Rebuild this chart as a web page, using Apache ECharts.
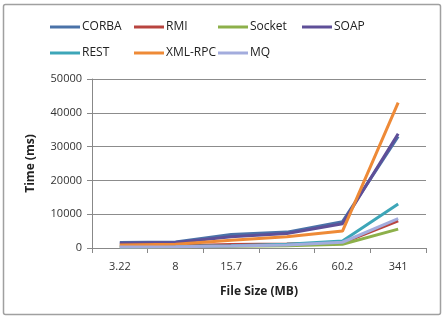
<!DOCTYPE html>
<html>
<head>
<meta charset="utf-8">
<script src="https://cdn.jsdelivr.net/npm/echarts@6/dist/echarts.min.js"></script>
<style>
  html, body { margin: 0; padding: 0; background: #fff; }
  #chart { width: 447px; height: 317px; }
</style>
</head>
<body>
<div id="chart"></div>
<script>
const fileSizes = ['3.22', '8', '15.7', '26.6', '60.2', '341']
const corba = [1600, 1800, 4000, 4700, 7800, 33000]
const rmi = [600, 700, 1000, 1200, 1500, 8000]
const socket = [300, 400, 500, 700, 1100, 5600]
const soap = [1400, 1600, 3300, 4300, 7200, 33800]
const rest = [400, 500, 700, 1100, 2100, 13000]
const xmlRpc = [900, 1100, 2300, 3300, 5000, 43000]
const mq = [300, 400, 600, 900, 1700, 8700]
const yTicks = [0, 10000, 20000, 30000, 40000, 50000]

const names = ['CORBA', 'RMI', 'Socket', 'SOAP', 'REST', 'XML-RPC', 'MQ']
const values = [corba, rmi, socket, soap, rest, xmlRpc, mq]
const colors = ['#4A72A8', '#B8443F', '#8DB04A', '#5E4F98', '#3DA6B8', '#EE8A37', '#A3ACDD']

var myChart = echarts.init(document.getElementById('chart'))

const option = {
  backgroundColor: '#fff',
  animation: false,
  color: colors,
  graphic: [
    {
      type: 'rect',
      shape: { x: 3.5, y: 4.5, width: 437, height: 310, r: 2 },
      style: { fill: 'none', stroke: '#a0a0a0', lineWidth: 1.5 },
    },
  ],
  legend: {
    data: names,
    left: 45,
    top: 9,
    width: 360,
    itemWidth: 30,
    itemHeight: 3,
    itemGap: 0,
    icon: 'rect',
    textStyle: {
      fontFamily: 'Open Sans',
      fontSize: 12,
      color: '#222',
      width: 52,
      padding: [0, 0, 0, -3],
      lineHeight: 26,
    },
  },
  grid: {
    left: 92,
    right: 21,
    top: 79,
    bottom: 69,
  },
  xAxis: {
    type: 'category',
    data: fileSizes,
    name: 'File Size (MB)',
    nameLocation: 'middle',
    nameGap: 38,
    nameTextStyle: { fontFamily: 'Open Sans', fontWeight: 'bold', fontSize: 12, color: '#222' },
    axisLine: { lineStyle: { color: '#888' } },
    axisTick: { show: true, alignWithLabel: false, length: 5, lineStyle: { color: '#888' } },
    axisLabel: { fontFamily: 'Open Sans', fontSize: 11, color: '#333', margin: 13 },
  },
  yAxis: {
    type: 'value',
    min: 0,
    max: 50000,
    interval: 10000,
    name: 'Time (ms)',
    nameLocation: 'middle',
    nameGap: 55,
    nameTextStyle: { fontFamily: 'Open Sans', fontWeight: 'bold', fontSize: 12, color: '#222' },
    axisLine: { show: true, lineStyle: { color: '#888' } },
    axisTick: { show: true, length: 5, lineStyle: { color: '#888' } },
    axisLabel: {
      fontFamily: 'Open Sans',
      fontSize: 11,
      color: '#333',
      margin: 10,
      formatter: function (v) { return yTicks.indexOf(v) >= 0 ? String(v) : '' },
    },
    splitLine: { lineStyle: { color: '#8c8c8c' } },
  },
  series: names.map(function (name, i) {
    return {
      name: name,
      type: 'line',
      data: values[i],
      symbol: 'none',
      lineStyle: { width: 3 },
    }
  }),
}

option && myChart.setOption(option)
</script>
</body>
</html>
